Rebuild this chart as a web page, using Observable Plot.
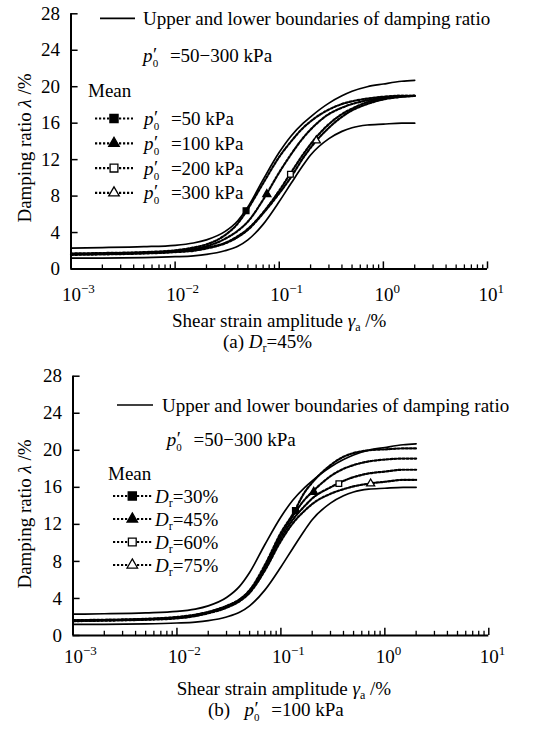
<!DOCTYPE html>
<html><head><meta charset="utf-8">
<script src="https://cdn.jsdelivr.net/npm/d3@7"></script>
<script src="https://cdn.jsdelivr.net/npm/@observablehq/plot@0.6"></script>
<style>
html,body{margin:0;padding:0;background:#fff;}
#chart svg{display:block;}
</style></head><body><div id="chart"></div>
<script>
// ---------- data ----------
const strain = [0.001, 0.002, 0.005, 0.01, 0.015, 0.02, 0.03, 0.04, 0.05, 0.07, 0.1, 0.13, 0.17, 0.2, 0.3, 0.4, 0.5, 0.7, 1, 1.5, 2];
const upperBound = [2.3, 2.35, 2.45, 2.6, 2.85, 3.2, 4.1, 5.3, 6.8, 9.8, 12.8, 14.6, 16.0, 16.7, 18.2, 19.0, 19.5, 20.0, 20.3, 20.6, 20.7];
const lowerBound = [1.2, 1.2, 1.25, 1.35, 1.45, 1.6, 2.0, 2.5, 3.2, 4.9, 7.4, 9.4, 11.4, 12.5, 14.3, 15.1, 15.5, 15.8, 15.9, 16.0, 16.0];

// panel (a): Dr = 45%, mean curves by p'0
const meanP50  = [1.7, 1.75, 1.85, 2.05, 2.35, 2.7, 3.7, 5.0, 6.6, 9.4, 12.3, 14.0, 15.5, 16.2, 17.5, 18.1, 18.4, 18.7, 18.9, 19.0, 19.0];
const meanP100 = [1.65, 1.7, 1.8, 1.95, 2.2, 2.5, 3.3, 4.2, 5.2, 7.6, 10.6, 12.6, 14.4, 15.3, 17.0, 17.7, 18.1, 18.5, 18.8, 19.0, 19.0];
const meanP200 = [1.6, 1.65, 1.75, 1.9, 2.1, 2.35, 2.85, 3.6, 4.4, 6.2, 8.6, 10.6, 12.6, 13.7, 15.9, 17.0, 17.6, 18.3, 18.7, 18.9, 19.0];
const meanP300 = [1.55, 1.6, 1.7, 1.85, 2.0, 2.25, 2.8, 3.5, 4.3, 6.1, 8.3, 10.1, 12.2, 13.3, 15.5, 16.7, 17.4, 18.1, 18.6, 18.9, 19.0];
const seriesA = ["p50", "p100", "p200", "p300"];
const markerStrainA = [0.048, 0.076, 0.128, 0.227];
const markerDampA = [6.4, 8.2, 10.4, 14.1];

// panel (b): p'0 = 100 kPa, mean curves by Dr
const meanDr30 = [1.65, 1.7, 1.8, 2.0, 2.25, 2.55, 3.2, 3.9, 4.9, 7.6, 11.1, 13.1, 15.5, 16.5, 18.4, 19.3, 19.7, 20.0, 20.1, 20.2, 20.2];
const meanDr45 = [1.6, 1.65, 1.75, 1.95, 2.2, 2.5, 3.15, 3.85, 4.8, 7.4, 10.8, 12.9, 14.7, 15.5, 17.2, 18.0, 18.4, 18.8, 19.0, 19.1, 19.1];
const meanDr60 = [1.6, 1.65, 1.75, 1.9, 2.15, 2.45, 3.1, 3.8, 4.7, 7.2, 10.5, 12.5, 14.0, 14.8, 16.0, 16.7, 17.1, 17.5, 17.7, 17.9, 17.9];
const meanDr75 = [1.55, 1.6, 1.7, 1.85, 2.1, 2.4, 3.0, 3.7, 4.6, 7.0, 10.2, 12.1, 13.5, 14.2, 15.3, 15.8, 16.1, 16.4, 16.6, 16.8, 16.8];
const seriesB = ["Dr30", "Dr45", "Dr60", "Dr75"];
const markerStrainB = [0.138, 0.207, 0.361, 0.73];
const markerDampB = [13.5, 15.5, 16.4, 16.4];

const legendA = ["50 kPa", "100 kPa", "200 kPa", "300 kPa"];
const legendB = ["30%", "45%", "60%", "75%"];
const yTicks = [0, 4, 8, 12, 16, 20, 24, 28];
const xDecades = [0.001, 0.01, 0.1, 1, 10];
const minorMult = [2, 3, 4, 5, 6, 7, 8, 9];

// ---------- styling ----------
const FONT = "'Liberation Serif','Times New Roman',serif";
const FS = 19;
const symbols = ["square", "triangle", "square", "triangle"];
const fills = ["#000", "#000", "#fff", "#fff"];
const radii = [4.6, 3.9, 4.4, 3.9];
const DASH = "2.2,1.8";

function rows(names, arrays) {
  const out = [];
  names.forEach((n, k) => arrays[k].forEach((v, i) => out.push({series: n, x: strain[i], y: v})));
  return out;
}

function rich(svg, x, y, parts, opts = {}) {
  const t = d3.select(svg).append("text")
    .attr("x", x).attr("y", y)
    .attr("font-family", FONT).attr("font-size", opts.size || FS)
    .attr("text-anchor", opts.anchor || "start")
    .attr("fill", "#000").style("white-space", "pre");
  if (opts.rotate) t.attr("transform", `rotate(-90 ${x} ${y})`);
  let shift = 0;
  for (const p of parts) {
    const [txt, o] = Array.isArray(p) ? p : [p, {}];
    const sp = t.append("tspan").text(txt);
    const target = o.shift || 0;
    if (target !== shift) { sp.attr("dy", target - shift); shift = target; }
    if (o.dx) sp.attr("dx", o.dx);
    if (o.italic) sp.attr("font-style", "italic");
    if (o.size) sp.attr("font-size", o.size);
  }
  return t;
}

const P0 = [["p", {italic: true}], ["\u2032", {dx: 0.5, shift: -1}], ["0", {size: 11, dx: -4.5, shift: 5}]];
const DR = [["D", {italic: true}], ["r", {size: 12, shift: 4}]];

function makePanel(cfg) {
  const bounds = rows(["upper", "lower"], [upperBound, lowerBound]);
  const means = rows(cfg.names, cfg.means);
  const markers = cfg.mx.map((x, i) => ({x, y: cfg.my[i], i}));
  const xMinor = xDecades.slice(0, -1).flatMap(d => minorMult.map(m => d * m));
  const svg = Plot.plot({
    width: 541, height: cfg.height,
    marginLeft: cfg.ml, marginRight: cfg.mr, marginTop: cfg.mt, marginBottom: cfg.mb,
    style: {fontFamily: FONT, fontSize: FS + "px", color: "#000", background: "#fff", overflow: "visible"},
    x: {type: "log", domain: [1e-3, 10]},
    y: {domain: [0, 28]},
    marks: [
      Plot.axisY({ticks: yTicks, tickSize: 0, tickPadding: 11, label: null, fontSize: FS}),
      Plot.axisX({ticks: xDecades, tickSize: 0, tickPadding: cfg.xpad, label: null, fontSize: FS,
                  tickFormat: d => "10^" + Math.round(Math.log10(d))}),
      // inward ticks
      Plot.ruleX(xDecades, {x: d => d, y1: 0, y2: 0.78, stroke: "#000", strokeWidth: 1.5}),
      Plot.ruleX(xMinor, {x: d => d, y1: 0, y2: 0.45, stroke: "#000", strokeWidth: 1.3}),
      Plot.ruleY(yTicks, {y: d => d, x1: 1e-3, x2: 1.17e-3, stroke: "#000", strokeWidth: 1.5}),
      // axis lines
      Plot.ruleX([1e-3], {stroke: "#000", strokeWidth: 2}),
      Plot.ruleY([0], {stroke: "#000", strokeWidth: 2}),
      Plot.line(bounds, {x: "x", y: "y", z: "series", curve: "monotone-x", stroke: "#000", strokeWidth: 1.7}),
      Plot.line(means, {x: "x", y: "y", z: "series", curve: "monotone-x", stroke: "#000", strokeWidth: 2.2, strokeDasharray: DASH}),
      Plot.dot(markers, {x: "x", y: "y", symbol: d => symbols[d.i], fill: d => fills[d.i], r: d => radii[d.i],
                         stroke: "#000", strokeWidth: 1.3})
    ]
  });
  // superscript tick labels
  d3.select(svg).selectAll('g[aria-label="x-axis tick label"] text').each(function () {
    const m = this.textContent.match(/^10\^(-?\d+)$/);
    if (!m) return;
    const e = m[1].replace("-", "\u2212");
    this.textContent = "";
    const s = d3.select(this).attr("text-anchor", "start");
    s.append("tspan").attr("dx", -9).text("10");
    s.append("tspan").attr("dy", -8).attr("font-size", 13).text(e);
  });
  // legend
  const L = cfg.legend;
  d3.select(svg).append("line").attr("x1", L.solid[0]).attr("x2", L.solid[1]).attr("y1", L.solidY).attr("y2", L.solidY)
    .attr("stroke", "#000").attr("stroke-width", 1.7);
  rich(svg, L.solidText, L.solidY + 7, ["Upper and lower boundaries of damping ratio"]);
  rich(svg, L.rangeX, L.rangeY, [...P0, [" =50\u2212300 kPa", {dx: 7}]]);
  rich(svg, L.meanX, L.meanY, ["Mean"]);
  cfg.labels.forEach((lab, i) => {
    const y = L.entryY + i * L.entryStep;
    d3.select(svg).append("line").attr("x1", L.line[0]).attr("x2", L.line[1]).attr("y1", y).attr("y2", y)
      .attr("stroke", "#000").attr("stroke-width", 2.2).attr("stroke-dasharray", DASH);
    const sym = symbols[i] === "square" ? d3.symbolSquare : d3.symbolTriangle;
    d3.select(svg).append("path").attr("d", d3.symbol(sym, Math.PI * radii[i] * radii[i])())
      .attr("transform", `translate(${L.mark},${y})`).attr("fill", fills[i]).attr("stroke", "#000").attr("stroke-width", 1.3);
    if (cfg.kind === "p") rich(svg, L.textX, y + L.textDy, [...P0, [" =" + lab, {dx: 7}]]);
    else rich(svg, L.textX, y + L.textDy, [...DR, ["=" + lab, {shift: 0}]]);
  });
  // axis titles
  rich(svg, cfg.xTitle[0], cfg.xTitle[1], ["Shear strain amplitude ", ["\u03b3", {italic: true}], ["a", {size: 12, shift: 4}], [" /%", {shift: 0}]]);
  rich(svg, cfg.yTitle[0], cfg.yTitle[1], ["Damping ratio ", ["\u03bb", {italic: true}], " /%"], {anchor: "middle", rotate: true});
  rich(svg, cfg.cap[0], cfg.cap[1], cfg.capParts);
  return svg;
}

const root = document.getElementById("chart");
root.appendChild(makePanel({
  height: 360, ml: 70.5, mr: 54, mt: 13.3, mb: 91.5, xpad: 18,
  names: seriesA, means: [meanP50, meanP100, meanP200, meanP300], mx: markerStrainA, my: markerDampA,
  kind: "p", labels: legendA,
  legend: {solid: [100, 135], solidY: 18.3, solidText: 143, rangeX: 143, rangeY: 61.5, meanX: 88, meanY: 97,
           entryY: 118.5, entryStep: 24.8, line: [95, 133], mark: 114, textX: 144, textDy: 6.5},
  xTitle: [172, 327], yTitle: [31, 148], cap: [223, 348],
  capParts: ["(a) ", ...DR, ["=45%", {shift: 0}]]
}));
root.appendChild(makePanel({
  height: 373, ml: 72.5, mr: 52.7, mt: 15.7, mb: 98, xpad: 14,
  names: seriesB, means: [meanDr30, meanDr45, meanDr60, meanDr75], mx: markerStrainB, my: markerDampB,
  kind: "D", labels: legendB,
  legend: {solid: [117, 153], solidY: 45, solidText: 162, rangeX: 166.7, rangeY: 86, meanX: 108, meanY: 120,
           entryY: 136, entryStep: 23, line: [113, 151.7], mark: 132.3, textX: 155, textDy: 7},
  xTitle: [176.7, 335], yTitle: [31, 154], cap: [208, 356],
  capParts: ["(b)   ", ...P0, [" =100 kPa", {dx: 7, shift: 0}]]
}));
</script>
</body></html>
